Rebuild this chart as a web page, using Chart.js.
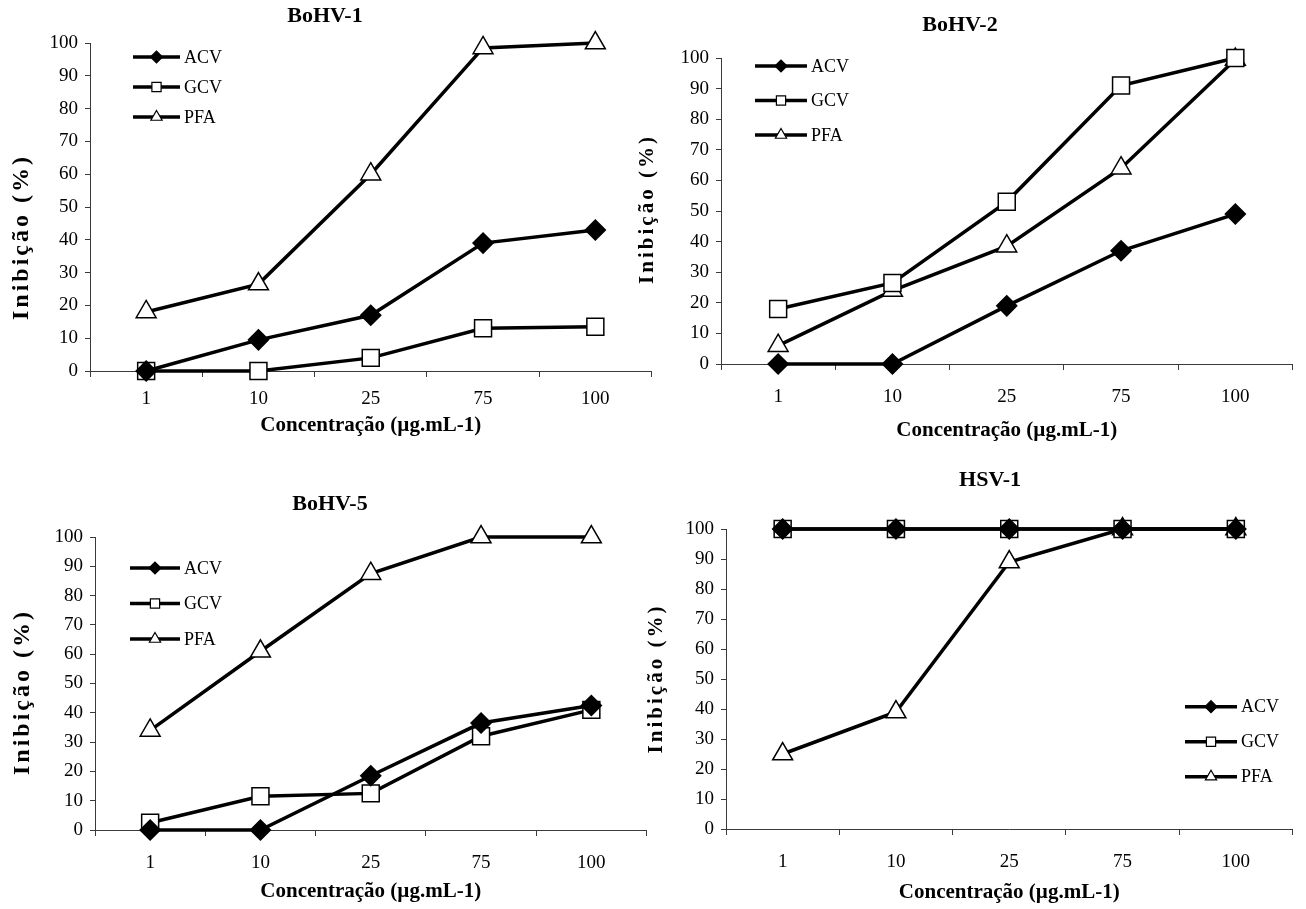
<!DOCTYPE html>
<html>
<head>
<meta charset="utf-8">
<title>Inibição viral</title>
<script src="https://cdn.jsdelivr.net/npm/chart.js"></script>
<style>
  body { margin: 0; background: #fff; width: 1306px; height: 909px; position: relative; overflow: hidden; }
  canvas { position: absolute; }
</style>
</head>
<body>
<canvas id="c1" width="665" height="440" style="left:0;top:0"></canvas>
<canvas id="c2" width="676" height="445" style="left:630px;top:0"></canvas>
<canvas id="c3" width="660" height="449" style="left:0;top:460px"></canvas>
<canvas id="c4" width="676" height="449" style="left:630px;top:460px"></canvas>
<script>
// concentrations (µg.mL-1) and drugs
const concentrations = ['1', '10', '25', '75', '100'];
const drugs = ['ACV', 'GCV', 'PFA'];

// inhibition (%)
const bohv1Acv = [0, 9.5, 17, 39, 43];
const bohv1Gcv = [0, 0, 4, 13, 13.5];
const bohv1Pfa = [18, 26.5, 60, 98.5, 100];

const bohv2Acv = [0, 0, 19, 37, 49];
const bohv2Gcv = [18, 26.5, 53, 91, 100];
const bohv2Pfa = [6, 24, 38.5, 64, 99.5];

const bohv5Acv = [0, 0, 18.5, 36.5, 42.5];
const bohv5Gcv = [2.5, 11.5, 12.5, 32, 41];
const bohv5Pfa = [34, 61, 87.5, 100, 100];

const hsv1Acv = [100, 100, 100, 100, 100];
const hsv1Gcv = [100, 100, 100, 100, 100];
const hsv1Pfa = [25, 39, 89, 100, 100];

const FONT = '"Liberation Serif", "Times New Roman", serif';
const AXIS = '#3a3a3a';

const drugStyles = [
    { pointStyle: 'rectRot', radius: 10, fill: '#000', legendRadius: 6 },
    { pointStyle: 'rect', radius: 12, fill: '#fff', legendRadius: 6.5 },
    { pointStyle: 'triangle', radius: 11.5, fill: '#fff', legendRadius: 6.5 }
];

// draws panel title, rotated y title and the in-plot legend
const panelText = {
    id: 'panelText',
    afterDraw(chart, args, opts) {
        const ctx = chart.ctx;
        ctx.save();
        ctx.fillStyle = '#000';
        ctx.textAlign = 'center';
        ctx.textBaseline = 'middle';
        ctx.font = 'bold 22px ' + FONT;
        ctx.fillText(opts.title, opts.titleX, opts.titleY);

        ctx.save();
        ctx.translate(opts.yTitleX, opts.yTitleY);
        ctx.rotate(-Math.PI / 2);
        ctx.font = 'bold ' + opts.ySize + 'px ' + FONT;
        ctx.letterSpacing = opts.ySpacing;
        ctx.fillText('Inibição (%)', 0, 0);
        ctx.restore();

        const lg = opts.legend;
        ctx.textAlign = 'left';
        ctx.font = '18px ' + FONT;
        chart.data.datasets.forEach((ds, i) => {
            const y = lg.y + i * lg.gap;
            ctx.strokeStyle = '#000';
            ctx.lineWidth = ds.borderWidth;
            ctx.beginPath();
            ctx.moveTo(lg.x, y);
            ctx.lineTo(lg.x + lg.len, y);
            ctx.stroke();
            ctx.fillStyle = ds.pointBackgroundColor;
            ctx.lineWidth = 1.2;
            Chart.helpers.drawPoint(ctx, {
                pointStyle: ds.pointStyle,
                radius: drugStyles[i].legendRadius,
                borderWidth: 1.2,
                rotation: 0
            }, lg.x + lg.len / 2, y);
            ctx.fillStyle = '#000';
            ctx.fillText(ds.label, lg.x + lg.len + 4, y + 1);
        });
        ctx.restore();
    }
};

function makeDatasets(series) {
    return series.map((values, i) => ({
        label: drugs[i],
        data: values,
        clip: false,
        borderColor: '#000',
        borderWidth: 3.5,
        pointStyle: drugStyles[i].pointStyle,
        pointRadius: drugStyles[i].radius,
        pointHoverRadius: drugStyles[i].radius,
        pointBackgroundColor: drugStyles[i].fill,
        pointBorderColor: '#000',
        pointBorderWidth: 1.5,
        tension: 0
    }));
}

function createPanel(p) {
    new Chart(document.getElementById(p.id).getContext('2d'), {
        type: 'line',
        data: { labels: concentrations, datasets: makeDatasets(p.series) },
        options: {
            responsive: false,
            animation: false,
            layout: { padding: { top: p.padTop, right: p.padRight, left: 0, bottom: 0 } },
            plugins: {
                legend: { display: false },
                title: { display: false },
                tooltip: { enabled: false },
                panelText: p.text
            },
            scales: {
                x: {
                    offset: true,
                    afterFit: s => { s.height = p.xHeight; },
                    border: { color: AXIS, width: 1 },
                    grid: { offset: true, drawOnChartArea: false, tickLength: 6, color: AXIS },
                    ticks: { color: '#000', padding: p.xPad, font: { family: FONT, size: 19 } },
                    title: {
                        display: true,
                        text: 'Concentração (µg.mL-1)',
                        color: '#000',
                        font: { family: FONT, size: 21, weight: 'bold' },
                        padding: { top: 0, bottom: p.xTitlePad }
                    }
                },
                y: {
                    min: 0,
                    max: 100,
                    afterFit: s => { s.width = p.yWidth; },
                    border: { color: AXIS, width: 1 },
                    grid: { drawOnChartArea: false, tickLength: 5, color: AXIS },
                    ticks: { stepSize: 10, color: '#000', padding: 7, font: { family: FONT, size: 19 } }
                }
            }
        },
        plugins: [panelText]
    });
}

createPanel({
    id: 'c1', series: [bohv1Acv, bohv1Gcv, bohv1Pfa],
    padTop: 43, padRight: 8, yWidth: 90, xHeight: 69, xPad: 10.5, xTitlePad: 1.5,
    text: { title: 'BoHV-1', titleX: 325, titleY: 16, yTitleX: 22, yTitleY: 237, ySize: 24, ySpacing: '3px',
            legend: { x: 133, y: 57, gap: 30, len: 47 } }
});
createPanel({
    id: 'c2', series: [bohv2Acv, bohv2Gcv, bohv2Pfa],
    padTop: 58, padRight: 4, yWidth: 91, xHeight: 81, xPad: 15.6, xTitlePad: 1.4,
    text: { title: 'BoHV-2', titleX: 330, titleY: 25, yTitleX: 18, yTitleY: 209, ySize: 21, ySpacing: '3px',
            legend: { x: 125, y: 66, gap: 34.5, len: 52 } }
});
createPanel({
    id: 'c3', series: [bohv5Acv, bohv5Gcv, bohv5Pfa],
    padTop: 77, padRight: 5, yWidth: 95, xHeight: 79, xPad: 15.6, xTitlePad: 4.4,
    text: { title: 'BoHV-5', titleX: 330, titleY: 44, yTitleX: 23, yTitleY: 232, ySize: 24, ySpacing: '3px',
            legend: { x: 130, y: 108, gap: 35.5, len: 50 } }
});
createPanel({
    id: 'c4', series: [hsv1Acv, hsv1Gcv, hsv1Pfa],
    padTop: 69, padRight: 10, yWidth: 96, xHeight: 80, xPad: 15.6, xTitlePad: 3.4,
    text: { title: 'HSV-1', titleX: 360, titleY: 20, yTitleX: 27, yTitleY: 218.5, ySize: 21, ySpacing: '3px',
            legend: { x: 555, y: 246.7, gap: 35, len: 52 } }
});
</script>
</body>
</html>
